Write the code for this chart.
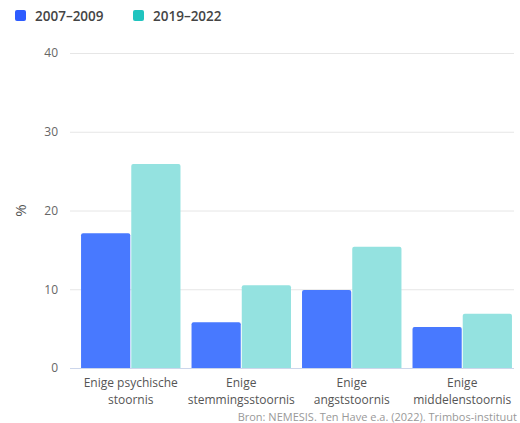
<!DOCTYPE html>
<html>
<head>
<meta charset="utf-8">
<script src="https://cdn.jsdelivr.net/npm/d3@7"></script>
<style>
  body { margin: 0; background: #fff; }
  text { font-family: "Open Sans", sans-serif; }
</style>
</head>
<body>
<div id="chart"></div>
<script>
const categories = [
  ["Enige psychische", "stoornis"],
  ["Enige", "stemmingsstoornis"],
  ["Enige", "angststoornis"],
  ["Enige", "middelenstoornis"]
];
const seriesNames = ["2007–2009", "2019–2022"];
const values2007 = [17.1, 5.8, 9.9, 5.2];
const values2019 = [25.9, 10.5, 15.4, 6.9];
const yTicks = [0, 10, 20, 30, 40];

const barColors = ["#4879ff", "#94e2e0"];
const legendColors = ["#2e5cff", "#20c4bf"];

const width = 520;
const height = 423;
const margin = { top: 53, right: 6, bottom: 55, left: 70 };

const svg = d3
  .select("#chart")
  .append("svg")
  .attr("width", width)
  .attr("height", height);

const x = d3
  .scaleBand()
  .domain(d3.range(categories.length))
  .range([margin.left, 523])
  .paddingInner(0.1)
  .paddingOuter(0.1);

const xInner = d3
  .scaleBand()
  .domain(d3.range(seriesNames.length))
  .range([0, x.bandwidth()])
  .paddingInner(0.02);

const y = d3
  .scaleLinear()
  .domain([0, 40])
  .range([height - margin.bottom, margin.top]);

// gridlines + y labels
const yAxis = d3
  .axisLeft(y)
  .tickValues(yTicks)
  .tickSize(-(width - margin.left - margin.right))
  .tickPadding(12);

const yG = svg
  .append("g")
  .attr("transform", `translate(${margin.left},0)`)
  .call(yAxis);
yG.select(".domain").remove();
yG.selectAll(".tick line").attr("stroke", "#e6e6e6");
yG.selectAll(".tick text")
  .attr("fill", "#666")
  .style("font-size", "12px");

svg
  .append("text")
  .attr("transform", `translate(21,${y(20)}) rotate(-90)`)
  .attr("text-anchor", "middle")
  .attr("dy", "0.35em")
  .attr("fill", "#555")
  .style("font-size", "15px")
  .text("%");

// bars
const seriesData = [values2007, values2019];
const r = 2;
const barPath = (x0, y0, w, h) =>
  `M${x0},${y0 + h}V${y0 + r}Q${x0},${y0} ${x0 + r},${y0}H${x0 + w - r}Q${x0 + w},${y0} ${x0 + w},${y0 + r}V${y0 + h}Z`;

categories.forEach((cat, i) => {
  const g = svg.append("g").attr("transform", `translate(${x(i)},0)`);
  seriesData.forEach((vals, s) => {
    const bx = xInner(s);
    const by = y(vals[i]);
    g.append("path")
      .attr("d", barPath(bx, by, xInner.bandwidth(), y(0) - by))
      .attr("fill", barColors[s]);
  });
});

// baseline
svg
  .append("line")
  .attr("x1", margin.left)
  .attr("x2", width - margin.right)
  .attr("y1", y(0) + 0.5)
  .attr("y2", y(0) + 0.5)
  .attr("stroke", "#ccd6eb");

// x labels, one text per line
categories.forEach((lines, i) => {
  lines.forEach((l, k) => {
    svg
      .append("text")
      .attr("x", x(i) + x.bandwidth() / 2)
      .attr("y", y(0) + 19 + k * 16.5)
      .attr("text-anchor", "middle")
      .attr("fill", "#555")
      .style("font-size", "12px")
      .text(l);
  });
});

// legend
const legendX = [15, 133];
seriesNames.forEach((name, s) => {
  svg
    .append("rect")
    .attr("x", legendX[s])
    .attr("y", 10)
    .attr("width", 11)
    .attr("height", 11)
    .attr("rx", 2)
    .attr("fill", legendColors[s]);
  svg
    .append("text")
    .attr("x", legendX[s] + 20)
    .attr("y", 16)
    .attr("dy", "0.35em")
    .attr("fill", "#444")
    .style("font-size", "13.5px")
    .style("font-weight", "600")
    .text(name);
});

// source
svg
  .append("text")
  .attr("x", 517)
  .attr("y", 421)
  .attr("text-anchor", "end")
  .attr("fill", "#999")
  .style("font-size", "11px")
  .text("Bron: NEMESIS. Ten Have e.a. (2022). Trimbos-instituut");
</script>
</body>
</html>
